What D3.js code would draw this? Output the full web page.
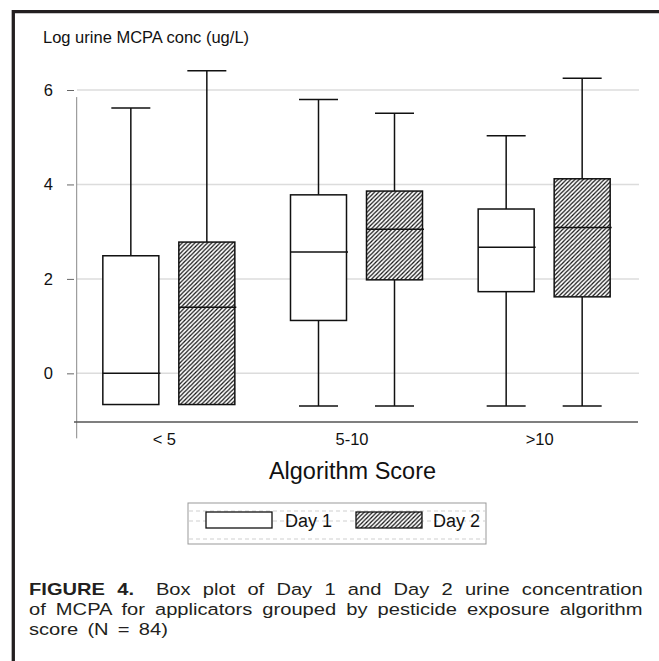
<!DOCTYPE html>
<html>
<head>
<meta charset="utf-8">
<script src="https://cdn.jsdelivr.net/npm/d3@7"></script>
<style>
  body { margin: 0; background: #fff; }
  svg { display: block; font-family: "Liberation Sans", Arial, Helvetica, sans-serif; }
</style>
</head>
<body>
<div id="chart"></div>
<script>
// values (log urine MCPA, ug/L)
const categories = ["< 5", "5-10", ">10"];
const days = ["Day 1", "Day 2"];
// each box: [min, q1, median, q3, max]
const day1Boxes = [
  [-0.66, -0.66, 0.0, 2.49, 5.62],
  [-0.69, 1.12, 2.57, 3.78, 5.8],
  [-0.69, 1.73, 2.67, 3.48, 5.03],
];
const day2Boxes = [
  [-0.66, -0.66, 1.4, 2.78, 6.41],
  [-0.69, 1.98, 3.05, 3.86, 5.51],
  [-0.69, 1.62, 3.09, 4.12, 6.25],
];
const yTicks = [0, 2, 4, 6];

const settings = {
  width: 659,
  height: 661,
  boxWidth: 56,
  capWidth: 39,
  ink: "#111",
  gridColor: "#dcdcdc",
  captionColor: "#231f20",
};

const svg = d3
  .select("#chart")
  .append("svg")
  .attr("width", settings.width)
  .attr("height", settings.height);

// hatch pattern for Day 2
svg
  .append("defs")
  .append("pattern")
  .attr("id", "hatch")
  .attr("patternUnits", "userSpaceOnUse")
  .attr("width", 4.2)
  .attr("height", 4.2)
  .call((p) => p.append("rect").attr("width", 4.2).attr("height", 4.2).attr("fill", "#fff"))
  .append("path")
  .attr("d", "M-1,1L1,-1M0,4.2L4.2,0M3.2,5.2L5.2,3.2")
  .attr("stroke", "#111")
  .attr("stroke-width", 1.2);

// page frame (top and left rule)
svg
  .append("path")
  .attr("d", "M13.3,661V11.7H659")
  .attr("fill", "none")
  .attr("stroke", settings.captionColor)
  .attr("stroke-width", 3.3);

// scales
const x = d3.scaleBand().domain(categories).range([75, 638]);
const xDay = d3.scalePoint().domain(days).range([-38, 38]);
const y = d3.scaleLinear().domain([-1.03, 6]).range([422, 90]);

// grid lines
svg
  .append("g")
  .selectAll("line")
  .data(yTicks)
  .enter()
  .append("line")
  .attr("x1", 77)
  .attr("x2", 639)
  .attr("y1", (d) => y(d))
  .attr("y2", (d) => y(d))
  .attr("stroke", settings.gridColor)
  .attr("stroke-width", 1.5);

// y axis ticks + labels
const yAxis = svg
  .append("g")
  .attr("transform", "translate(74,0)")
  .call(
    d3.axisLeft(y).tickValues(yTicks).tickFormat(d3.format("d")).tickSize(7).tickPadding(14)
  );
yAxis.select(".domain").remove();
yAxis.selectAll("line").attr("stroke", "#666");
yAxis
  .selectAll("text")
  .attr("fill", "#111")
  .style("font-size", "16.5px")
  .style("font-family", "inherit");

// y axis line (runs past the x axis like the original)
svg
  .append("line")
  .attr("x1", 76.7)
  .attr("x2", 76.7)
  .attr("y1", y(5.85))
  .attr("y2", y(0) + 65)
  .attr("stroke", "#888")
  .attr("stroke-width", 1);

// x axis
const xAxis = svg
  .append("g")
  .attr("transform", `translate(0,${y(-1.03)})`)
  .call(d3.axisBottom(x).tickSize(0).tickSizeOuter(0).tickPadding(11.2));
xAxis.select(".domain").attr("stroke", "#555").attr("stroke-width", 1.3).attr("d", "M74,0H638");
xAxis
  .selectAll("text")
  .attr("x", -4.5)
  .attr("fill", "#111")
  .style("font-size", "16.5px")
  .style("font-family", "inherit");

// y title
svg
  .append("text")
  .attr("x", 43)
  .attr("y", 43.3)
  .style("font-size", "16.5px")
  .attr("fill", "#111")
  .text("Log urine MCPA conc (ug/L)");

// x title
svg
  .append("text")
  .attr("x", 352.5)
  .attr("y", 479.3)
  .attr("text-anchor", "middle")
  .style("font-size", "23.5px")
  .attr("fill", "#111")
  .text("Algorithm Score");

// boxes
const boxes = [];
categories.forEach((c, i) => {
  boxes.push({ cat: c, day: days[0], s: day1Boxes[i] });
  boxes.push({ cat: c, day: days[1], s: day2Boxes[i] });
});

const box = svg
  .append("g")
  .selectAll("g")
  .data(boxes)
  .enter()
  .append("g")
  .attr("transform", (d) => `translate(${x(d.cat) + x.bandwidth() / 2 + xDay(d.day)},0)`);

// upper whisker
box
  .append("line")
  .attr("y1", (d) => y(d.s[3]))
  .attr("y2", (d) => y(d.s[4]))
  .attr("stroke", settings.ink)
  .attr("stroke-width", 1.5);
box
  .append("line")
  .attr("x1", -settings.capWidth / 2)
  .attr("x2", settings.capWidth / 2)
  .attr("y1", (d) => y(d.s[4]))
  .attr("y2", (d) => y(d.s[4]))
  .attr("stroke", settings.ink)
  .attr("stroke-width", 1.5);

// lower whisker (only when min is below q1)
const lower = box.filter((d) => d.s[0] < d.s[1]);
lower
  .append("line")
  .attr("y1", (d) => y(d.s[1]))
  .attr("y2", (d) => y(d.s[0]))
  .attr("stroke", settings.ink)
  .attr("stroke-width", 1.5);
lower
  .append("line")
  .attr("x1", -settings.capWidth / 2)
  .attr("x2", settings.capWidth / 2)
  .attr("y1", (d) => y(d.s[0]))
  .attr("y2", (d) => y(d.s[0]))
  .attr("stroke", settings.ink)
  .attr("stroke-width", 1.5);

box
  .append("rect")
  .attr("x", -settings.boxWidth / 2)
  .attr("width", settings.boxWidth)
  .attr("y", (d) => y(d.s[3]))
  .attr("height", (d) => y(d.s[1]) - y(d.s[3]))
  .attr("fill", (d) => (d.day === days[0] ? "#fff" : "url(#hatch)"))
  .attr("stroke", settings.ink)
  .attr("stroke-width", 1.5);

// median
box
  .append("line")
  .attr("x1", -settings.boxWidth / 2)
  .attr("x2", settings.boxWidth / 2 + 1.5)
  .attr("y1", (d) => y(d.s[2]))
  .attr("y2", (d) => y(d.s[2]))
  .attr("stroke", settings.ink)
  .attr("stroke-width", 1.5);

// legend
const legend = svg.append("g").attr("transform", "translate(188,503)");
legend
  .append("rect")
  .attr("width", 298)
  .attr("height", 41)
  .attr("fill", "#fff")
  .attr("stroke", "#999")
  .attr("stroke-width", 1);
legend
  .selectAll("line.dash")
  .data([8, 18, 36])
  .enter()
  .append("line")
  .attr("class", "dash")
  .attr("x1", 1)
  .attr("x2", 297)
  .attr("y1", (d) => d)
  .attr("y2", (d) => d)
  .attr("stroke", "#cfcfcf")
  .attr("stroke-dasharray", "4,3");

const legendItem = legend
  .selectAll("g.item")
  .data(days)
  .enter()
  .append("g")
  .attr("class", "item")
  .attr("transform", (d, i) => `translate(${18 + i * 150},9)`);
legendItem
  .append("rect")
  .attr("width", 66)
  .attr("height", 16)
  .attr("fill", (d, i) => (i === 0 ? "#fff" : "url(#hatch)"))
  .attr("stroke", settings.ink)
  .attr("stroke-width", 1.3);
legendItem
  .append("text")
  .attr("x", (d, i) => (i === 0 ? 79 : 77))
  .attr("y", 15)
  .style("font-size", "18px")
  .attr("fill", "#111")
  .text((d) => d);

// caption: wide glyphs like the print, lines justified with word spacing
const capStretch = 1.22;
function fitLine(sel, x0, y0, width, extra = 0) {
  const natural = sel.node().getComputedTextLength() + extra;
  const spaces = (sel.text().match(/ /g) || []).length;
  sel
    .attr("word-spacing", Math.max(0, (width / capStretch - natural) / spaces))
    .attr("transform", `translate(${x0},${y0}) scale(${capStretch},1)`);
}

const cap1 = svg.append("text").attr("fill", settings.captionColor).style("font-size", "16.5px");
cap1.append("tspan").style("font-weight", "bold").text("FIGURE 4.");
cap1.append("tspan").attr("dx", 8).text(" Box plot of Day 1 and Day 2 urine concentration");
fitLine(cap1, 29, 595, 614, 8);

const cap2 = svg
  .append("text")
  .attr("fill", settings.captionColor)
  .style("font-size", "16.5px")
  .text("of MCPA for applicators grouped by pesticide exposure algorithm");
fitLine(cap2, 29, 615, 614);

const cap3 = svg
  .append("text")
  .attr("fill", settings.captionColor)
  .style("font-size", "16.5px")
  .text("score (N = 84)");
fitLine(cap3, 29, 635, 139);
</script>
</body>
</html>
